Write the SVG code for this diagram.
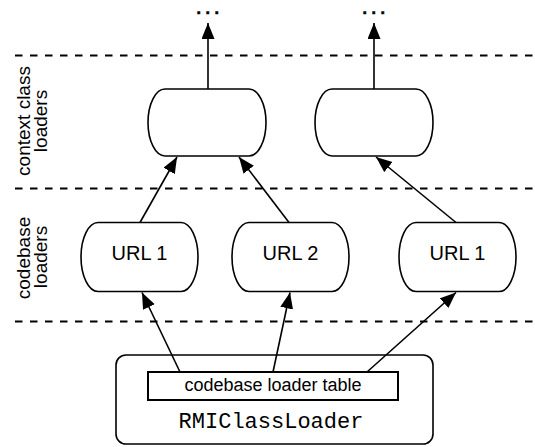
<svg xmlns="http://www.w3.org/2000/svg" width="535" height="447" viewBox="0 0 535 447">
  <style>
    .tier { stroke: #000; stroke-width: 2; stroke-dasharray: 7.5 7.5; fill: none; }
    .node { fill: #fff; stroke: #000; stroke-width: 1.6; }
    .edge { stroke: #000; stroke-width: 1.6; fill: none; marker-end: url(#head); }
    .sans { font-family: "Liberation Sans", Arial, Helvetica, sans-serif; fill: #000; }
    .mono { font-family: "Liberation Mono", "Courier New", monospace; fill: #000; }
    .lbl { font-size: 20px; text-anchor: middle; }
    .side { font-size: 19px; text-anchor: middle; }
    .more { font-size: 16px; font-weight: bold; letter-spacing: 4.5px; text-anchor: middle; stroke: #000; stroke-width: 0.6; }
  </style>
  <defs>
    <marker id="head" markerUnits="userSpaceOnUse" markerWidth="18" markerHeight="14" refX="16" refY="6.5" orient="auto">
      <path d="M0,0 L16,6.5 L0,13 Z" fill="#000"/>
    </marker>
  </defs>

  <!-- tier separators -->
  <g id="tiers">
    <line class="tier" x1="15" y1="55.5" x2="535" y2="55.5"/>
    <line class="tier" x1="15" y1="188.5" x2="535" y2="188.5"/>
    <line class="tier" x1="15" y1="321.5" x2="535" y2="321.5"/>
  </g>

  <!-- tier captions -->
  <g id="tier-labels" class="sans side">
    <text transform="translate(30,121) rotate(-90)">context class</text>
    <text transform="translate(47,121) rotate(-90)">loaders</text>
    <text transform="translate(30,258) rotate(-90)">codebase</text>
    <text transform="translate(47,257) rotate(-90)">loaders</text>
  </g>

  <!-- continuation marks -->
  <g id="more-left"><text class="sans more" x="210" y="13.5">...</text></g>
  <g id="more-right"><text class="sans more" x="376" y="13.5">...</text></g>

  <!-- context class loaders -->
  <g id="ctx-1">
    <path class="node" d="M165,89 H249 A17,33.5 0 0 1 249,156 H165 A17,33.5 0 0 1 165,89 Z"/>
  </g>
  <g id="ctx-2">
    <path class="node" d="M332,89 H416 A17,33.5 0 0 1 416,156 H332 A17,33.5 0 0 1 332,89 Z"/>
  </g>

  <!-- codebase loaders -->
  <g id="url-1a">
    <path class="node" d="M98,222.5 H181 A17,34.5 0 0 1 181,291.5 H98 A17,34.5 0 0 1 98,222.5 Z"/>
    <text class="sans lbl" x="139.5" y="260">URL 1</text>
  </g>
  <g id="url-2">
    <path class="node" d="M249,222.5 H332 A17,34.5 0 0 1 332,291.5 H249 A17,34.5 0 0 1 249,222.5 Z"/>
    <text class="sans lbl" x="290.5" y="260">URL 2</text>
  </g>
  <g id="url-1b">
    <path class="node" d="M416,222.5 H499 A17,34.5 0 0 1 499,291.5 H416 A17,34.5 0 0 1 416,222.5 Z"/>
    <text class="sans lbl" x="457.5" y="260">URL 1</text>
  </g>

  <!-- RMIClassLoader with its table -->
  <g id="rmi-class-loader">
    <rect class="node" x="116" y="355" width="317" height="89" rx="10" ry="10"/>
    <rect x="148" y="372" width="250" height="28" fill="#fff" stroke="#000" stroke-width="2"/>
    <text class="sans" x="273" y="391" font-size="18" text-anchor="middle">codebase loader table</text>
    <text class="mono" x="271" y="428" font-size="22" text-anchor="middle">RMIClassLoader</text>
  </g>

  <!-- delegation arrows -->
  <g id="connectors">
    <line class="edge" x1="208" y1="89" x2="208" y2="23"/>
    <line class="edge" x1="374" y1="89" x2="374" y2="23"/>
    <line class="edge" x1="140" y1="222.5" x2="177" y2="157"/>
    <line class="edge" x1="289" y1="222.5" x2="239" y2="157"/>
    <line class="edge" x1="456" y1="222.5" x2="376" y2="157"/>
    <line class="edge" x1="180" y1="372" x2="142" y2="292.5"/>
    <line class="edge" x1="273" y1="372" x2="290" y2="292.5"/>
    <line class="edge" x1="367" y1="372" x2="456" y2="292.5"/>
  </g>
</svg>
